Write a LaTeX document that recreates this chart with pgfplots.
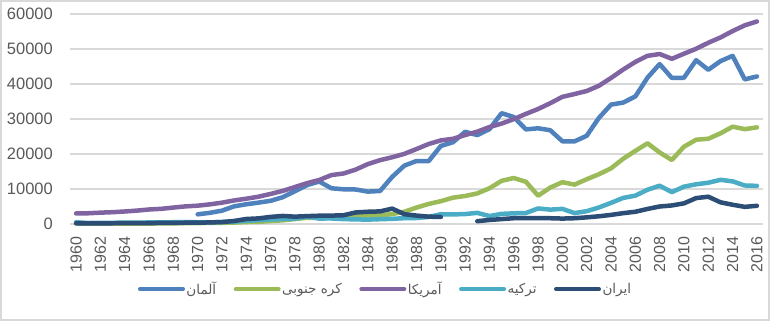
\documentclass[border=0pt]{standalone}
\usepackage{pgfplots}
\usepackage{pgfplotstable}
\pgfplotsset{compat=1.18}
\usepackage{fontspec}
\setmainfont{Liberation Sans}
\newfontfamily\arabicfont[Script=Arabic]{DejaVu Sans}
\TeXXeTstate=1
\definecolor{cde}{HTML}{4F81BD}
\definecolor{ckr}{HTML}{9BBB59}
\definecolor{cus}{HTML}{8064A2}
\definecolor{ctr}{HTML}{4BACC6}
\definecolor{cir}{HTML}{2C4D75}
\definecolor{cgrid}{HTML}{D9D9D9}
\definecolor{ctxt}{HTML}{595959}
\pgfplotstableread{
year de kr us tr ir
1960 nan 158 3007 509 192
1961 nan 94 3067 283 200
1962 nan 106 3244 309 205
1963 nan 146 3375 350 213
1964 nan 124 3574 368 232
1965 nan 109 3828 386 255
1966 nan 133 4146 441 272
1967 nan 161 4336 465 295
1968 nan 198 4696 509 330
1969 nan 243 5032 558 360
1970 2761 279 5234 492 385
1971 3190 301 5609 455 450
1972 3812 323 6094 562 560
1973 5047 406 6726 683 870
1974 5637 563 7226 913 1430
1975 6109 617 7801 1120 1600
1976 6623 834 8592 1291 2030
1977 7659 1055 9453 1419 2300
1978 9374 1405 10565 1526 2100
1979 11114 1783 11674 2085 2250
1980 12138 1704 12575 1564 2370
1981 10209 1870 13976 1579 2400
1982 9914 1978 14434 1400 2500
1983 9855 2180 15544 1309 3300
1984 9256 2411 17121 1254 3500
1985 9429 2482 18237 1368 3600
1986 13463 2835 19071 1478 4400
1987 16677 3511 20039 1667 2800
1988 17997 4686 21417 1716 2400
1989 17959 5738 22857 2022 2100
1990 22304 6516 23889 2794 2000
1991 23357 7523 24342 2736 nan
1992 26345 8002 25419 2842 nan
1993 25405 8741 26387 3180 800
1994 27097 10206 27695 2270 1150
1995 31659 12333 28691 2897 1400
1996 30563 13138 29968 3053 1650
1997 27036 12059 31459 3144 1700
1998 27342 8086 32854 4441 1700
1999 26795 10409 34515 4109 1650
2000 23636 11948 36330 4317 1550
2001 23608 11253 37134 3119 1650
2002 25206 12789 37998 3660 1900
2003 30310 14209 39490 4718 2200
2004 34107 15908 41725 6041 2600
2005 34696 18640 44123 7456 3100
2006 36448 20888 46302 8102 3500
2007 41814 23061 48050 9792 4300
2008 45699 20431 48570 10941 5000
2009 41733 18292 47195 9104 5300
2010 41786 22087 48651 10672 5900
2011 46810 24080 50066 11341 7400
2012 44065 24359 51784 11795 7800
2013 46531 25890 53291 12615 6200
2014 48043 27811 55124 12178 5500
2015 41324 27105 56763 11006 4900
2016 42161 27608 57867 10895 5200
}\datatable
\begin{document}
\begin{tikzpicture}[x=1pt,y=1pt]
\useasboundingbox (0,0) rectangle (770,321);
\draw[cgrid, line width=1.2pt] (1,1) rectangle (769,320);
\begin{axis}[
  at={(70pt,97pt)}, anchor=south west,
  scale only axis, width=693pt, height=210pt,
  xmin=1959.5, xmax=2016.5, ymin=0, ymax=60000,
  xtick={1960,1962,...,2016},
  ytick={0,10000,...,60000},
  scaled y ticks=false,
  /pgf/number format/.cd, assume math mode=true, set thousands separator={}, /pgfplots/.cd,
  axis line style={draw=none},
  axis x line*=bottom, axis y line*=left,
  major tick length=0pt,
  ymajorgrids, grid style={cgrid, line width=1.2pt},
  xticklabel style={rotate=90, anchor=east, inner sep=0pt, yshift=0pt, xshift=-12.5pt, font=\fontsize{16}{18}\selectfont, text=ctxt},
  yticklabel style={anchor=east, inner sep=0pt, xshift=-17pt, font=\fontsize{16.5}{18}\selectfont, text=ctxt},
  clip=false,
  unbounded coords=jump,
  every axis plot/.append style={line width=4.5pt, line join=round, line cap=round, no markers},
  legend columns=5,
  legend image code/.code={\draw[#1, line width=4pt, line cap=round] (0pt,0pt) -- (43pt,0pt);},
  legend style={at={(0.455,-0.31)}, anchor=center, draw=none, fill=none,
    font=\fontsize{13.5}{15}\selectfont, text=ctxt, inner sep=0pt,
    nodes={inner sep=1.5pt},
    /tikz/every odd column/.append style={column sep=0pt},
    /tikz/every even column/.append style={column sep=16pt}},
]
\draw[cgrid, line width=1.2pt] (axis cs:1959.5,0) -- (axis cs:2016.5,0);
\addplot[color=cde] table[x=year,y=de] {\datatable};
\addlegendentry{\arabicfont\beginR آلمان\endR}
\addplot[color=ckr] table[x=year,y=kr] {\datatable};
\addlegendentry{\arabicfont\beginR کره جنوبی\endR}
\addplot[color=cus] table[x=year,y=us] {\datatable};
\addlegendentry{\arabicfont\beginR آمریکا\endR}
\addplot[color=ctr] table[x=year,y=tr] {\datatable};
\addlegendentry{\arabicfont\beginR ترکیه\endR}
\addplot[color=cir] table[x=year,y=ir] {\datatable};
\addlegendentry{\arabicfont\beginR ایران\endR}
\end{axis}
\end{tikzpicture}
\end{document}
